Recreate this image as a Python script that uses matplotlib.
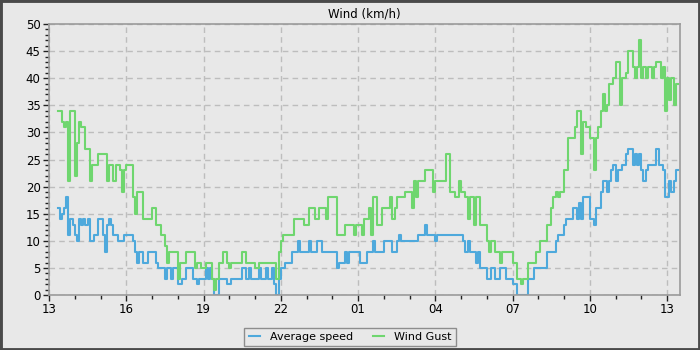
import numpy as np
import pandas as pd
import matplotlib
matplotlib.use("Agg")
import matplotlib.pyplot as plt
import matplotlib.dates as mdates
from matplotlib.patches import Rectangle

# 5-minute readings, from 13:20 to 13:45 next day
gust = [
    34, 34, 32, 31, 32, 21, 34, 34,                      # 13:20-13:55
    22, 28, 32, 31, 31, 27, 27, 21, 24, 24, 24, 26,      # 14
    26, 26, 26, 21, 24, 24, 21, 24, 24, 23, 19, 23,      # 15
    24, 24, 24, 18, 15, 19, 19, 19, 14, 14, 14, 14,      # 16
    16, 16, 13, 13, 11, 11, 9, 6, 8, 8, 8, 8,            # 17
    3, 6, 6, 6, 8, 8, 8, 8, 5, 6, 6, 5,                  # 18
    5, 6, 6, 6, 3, 1, 3, 6, 6, 8, 8, 6,                  # 19
    5, 6, 6, 6, 6, 6, 8, 8, 6, 6, 6, 6,                  # 20
    5, 5, 6, 6, 6, 6, 6, 6, 6, 6, 3, 8,                  # 21
    10, 11, 11, 11, 11, 11, 14, 14, 14, 14, 14, 13,      # 22
    13, 16, 16, 16, 14, 14, 16, 16, 16, 14, 18, 18,      # 23
    18, 18, 11, 11, 11, 11, 13, 13, 13, 13, 11, 13,      # 00
    13, 13, 11, 14, 14, 16, 11, 18, 18, 13, 13, 16,      # 01
    16, 16, 16, 18, 14, 16, 18, 18, 18, 18, 19, 19,      # 02
    19, 16, 21, 18, 21, 21, 21, 23, 23, 23, 23, 19,      # 03
    21, 21, 21, 21, 21, 26, 26, 19, 19, 18, 18, 21,      # 04
    19, 19, 18, 14, 18, 18, 13, 18, 18, 13, 13, 13,      # 05
    10, 8, 10, 10, 8, 8, 6, 8, 8, 8, 8, 8,               # 06
    6, 6, 3, 3, 2, 3, 3, 6, 6, 6, 6, 8,                  # 07
    8, 10, 10, 10, 13, 13, 16, 18, 19, 18, 19, 19,       # 08
    23, 23, 29, 29, 29, 31, 34, 34, 26, 32, 31, 31,      # 09
    29, 29, 23, 29, 31, 34, 37, 34, 35, 39, 39, 40,      # 10
    43, 43, 35, 40, 40, 41, 45, 45, 42, 40, 42, 47,      # 11
    40, 42, 40, 42, 42, 40, 42, 43, 43, 40, 42, 34,      # 12
    40, 36, 40, 35, 39, 39,                              # 13:00-13:25
]

avg = [
    16, 14, 15, 16, 18, 11, 14, 13,
    11, 10, 14, 13, 14, 13, 14, 10, 10, 11, 11, 14,
    14, 11, 8, 13, 14, 13, 11, 11, 10, 10, 10, 11,
    11, 11, 11, 10, 8, 6, 8, 8, 6, 6, 8, 8,
    8, 8, 6, 5, 5, 5, 3, 5, 5, 3, 5, 5,
    2, 2, 3, 3, 5, 5, 5, 3, 3, 2, 3, 3,
    3, 5, 3, 5, 3, 0, 0, 3, 3, 3, 3, 2,
    2, 3, 3, 3, 3, 3, 5, 5, 3, 5, 3, 3,
    3, 3, 5, 3, 3, 5, 3, 3, 5, 2, 0, 3,
    5, 5, 6, 6, 6, 8, 8, 8, 10, 8, 8, 8,
    8, 10, 8, 8, 8, 10, 10, 8, 8, 8, 8, 8,
    8, 8, 5, 6, 6, 6, 8, 6, 8, 8, 8, 8,
    8, 6, 6, 6, 8, 8, 8, 10, 8, 8, 8, 8,
    10, 10, 10, 10, 8, 8, 10, 11, 10, 10, 10, 10,
    10, 10, 10, 10, 11, 11, 11, 13, 11, 11, 11, 11,
    10, 11, 11, 11, 11, 11, 11, 11, 11, 11, 11, 11,
    11, 10, 8, 10, 8, 8, 8, 6, 8, 5, 5, 5,
    3, 3, 5, 5, 3, 3, 5, 5, 5, 3, 3, 3,
    2, 2, 0, 0, 0, 0, 0, 3, 3, 3, 5, 5,
    5, 5, 5, 5, 8, 8, 8, 8, 10, 11, 11, 11,
    13, 14, 14, 14, 16, 16, 14, 17, 14, 18, 18, 18,
    14, 14, 13, 16, 16, 19, 21, 21, 19, 21, 23, 24,
    21, 23, 23, 24, 24, 26, 27, 27, 24, 26, 24, 26,
    23, 21, 23, 24, 24, 24, 24, 27, 24, 24, 23, 18,
    18, 21, 19, 21, 23, 23,
]

times = pd.date_range("2024-05-01 13:20", periods=len(gust), freq="5min")
df = pd.DataFrame({"avg": avg, "gust": gust}, index=times)

bg = "#e8e8e8"
fig = plt.figure(figsize=(7, 3.5), dpi=100, facecolor=bg)
ax = fig.add_axes([0.07, 0.157, 0.9014, 0.7744])
ax.set_facecolor(bg)

ax.plot(df.index, df["avg"], drawstyle="steps-post", color="#4ea9dc", lw=1.5, label="Average speed")
ax.plot(df.index, df["gust"], drawstyle="steps-post", color="#6fd66f", lw=1.5, label="Wind Gust")

ax.set_xlim(pd.Timestamp("2024-05-01 13:00"), pd.Timestamp("2024-05-02 13:30"))
ax.set_ylim(0, 50)
ax.set_yticks(np.arange(0, 51, 5))
ax.yaxis.set_minor_locator(matplotlib.ticker.MultipleLocator(1))
ax.xaxis.set_major_locator(mdates.HourLocator(byhour=[1, 4, 7, 10, 13, 16, 19, 22]))
ax.xaxis.set_minor_locator(mdates.HourLocator())
ax.xaxis.set_major_formatter(mdates.DateFormatter("%H"))

ax.grid(True, which="major", color="#bdbdbd", linestyle=(0, (4, 3)), lw=1)
ax.set_axisbelow(True)
for s in ax.spines.values():
    s.set_color("#9a9a9a")
    s.set_linewidth(1.2)
ax.tick_params(which="major", length=4, width=1, color="#222222", labelsize=8.5, pad=2)
ax.tick_params(which="minor", length=3, width=1, color="#222222")

ax.set_title("Wind (km/h)", fontsize=8.5, pad=5)

leg = fig.legend(loc="center", bbox_to_anchor=(0.5, 0.037), ncol=2, fontsize=8,
                 frameon=True, fancybox=False, handlelength=1.0, columnspacing=1.8,
                 borderpad=0.4, handletextpad=0.9)
leg.get_frame().set_edgecolor("#777777")
leg.get_frame().set_facecolor(bg)
leg.get_frame().set_linewidth(1)

fig.patches.append(Rectangle((0, 0), 1, 1, transform=fig.transFigure, fill=False,
                             edgecolor="#4a4a4a", lw=3.5))

fig.savefig("out.png", dpi=100, facecolor=bg)
